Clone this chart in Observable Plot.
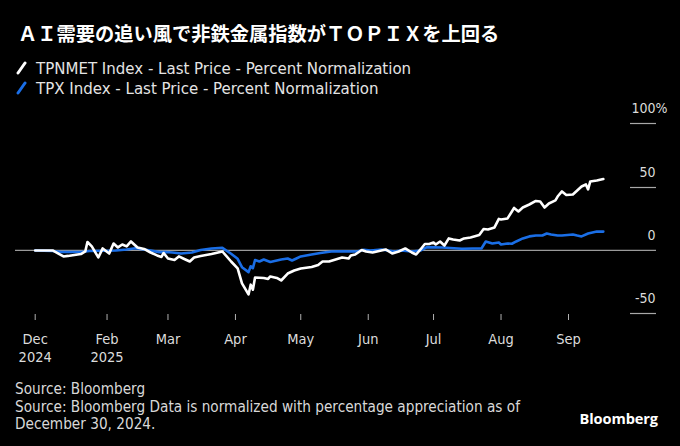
<!DOCTYPE html>
<html><head><meta charset="utf-8">
<script src="https://cdn.jsdelivr.net/npm/d3@7"></script>
<script src="https://cdn.jsdelivr.net/npm/@observablehq/plot@0.6"></script>
<style>
html,body{margin:0;padding:0;background:#000;}
#wrap{position:relative;width:680px;height:446px;background:#000;overflow:hidden;font-family:"DejaVu Sans Condensed","DejaVu Sans",sans-serif;color:#e4e4e4;}
#title{position:absolute;left:18px;top:20px;font-family:"Noto Sans CJK JP",sans-serif;font-weight:700;font-size:19.25px;line-height:26px;color:#fff;white-space:nowrap;}
.leg{position:absolute;left:15px;font-size:16.7px;line-height:20px;white-space:nowrap;display:flex;align-items:center;}
.leg svg{margin-right:8px;}
#chart{position:absolute;left:0;top:100px;}
#foot{position:absolute;left:15px;top:381px;font-size:15.2px;line-height:17.5px;color:#d8d8d8;}
#logo{position:absolute;right:22px;top:406px;font-family:"Open Sans",sans-serif;font-weight:700;font-size:14.6px;line-height:24px;color:#fff;letter-spacing:-0.1px;}
</style></head>
<body>
<div id="wrap">
  <div id="title">ＡＩ需要の追い風で非鉄金属指数がＴＯＰＩＸを上回る</div>
  <div class="leg" style="top:58px"><svg width="13" height="14"><line x1="3" y1="12" x2="10" y2="2" stroke="#ffffff" stroke-width="3" stroke-linecap="round"/></svg><span id="leg1"></span></div>
  <div class="leg" style="top:78px"><svg width="13" height="14"><line x1="3" y1="12" x2="10" y2="2" stroke="#1a6ee6" stroke-width="3" stroke-linecap="round"/></svg><span id="leg2"></span></div>
  <div id="chart"></div>
  <div id="foot">Source: Bloomberg<br>Source: Bloomberg Data is normalized with percentage appreciation as of<br>December 30, 2024.</div>
  <div id="logo">Bloomberg</div>
</div>
<script>
const seriesNames = ["TPNMET Index - Last Price - Percent Normalization", "TPX Index - Last Price - Percent Normalization"];
const seriesColors = ["#ffffff", "#1a6ee6"];

const tpnmet = [
["2024-12-30",0],["2025-01-07",0],["2025-01-12",-4.7],["2025-01-14",-4.3],["2025-01-20",-2.8],
["2025-01-22",-0.8],["2025-01-23",6.7],["2025-01-25",3.2],["2025-01-28",-5.5],["2025-01-30",1.6],
["2025-02-02",-2.4],["2025-02-04",5.5],["2025-02-06",2.4],["2025-02-08",4.7],["2025-02-10",3.2],
["2025-02-12",7.1],["2025-02-15",2.4],["2025-02-18",1.2],["2025-02-21",-1.6],["2025-02-24",-3.9],
["2025-02-26",-5.1],["2025-02-27",-2.0],["2025-03-01",-6.3],["2025-03-04",-7.5],["2025-03-06",-4.7],
["2025-03-08",-6.3],["2025-03-11",-8.7],["2025-03-13",-5.5],["2025-03-16",-4.3],["2025-03-21",-2.8],
["2025-03-24",-1.6],["2025-03-26",-0.8],["2025-03-30",-8.7],["2025-04-02",-14.2],["2025-04-04",-26],
["2025-04-07",-34.7],["2025-04-08",-27],["2025-04-09",-31],["2025-04-10",-21.3],["2025-04-14",-21.7],
["2025-04-16",-22.5],["2025-04-17",-20.5],["2025-04-20",-21.7],["2025-04-22",-23.7],["2025-04-25",-18.2],
["2025-04-28",-15.8],["2025-05-01",-14.2],["2025-05-06",-13],["2025-05-09",-11.4],["2025-05-11",-8.7],
["2025-05-14",-8.7],["2025-05-17",-7.1],["2025-05-20",-5.5],["2025-05-23",-6.3],["2025-05-24",-3.9],
["2025-05-26",-3.2],["2025-05-29",0.4],["2025-05-31",-0.8],["2025-06-03",-1.6],["2025-06-07",0],
["2025-06-09",0.8],["2025-06-12",-2.4],["2025-06-15",-0.8],["2025-06-18",1.6],["2025-06-21",-1.6],
["2025-06-23",-3.2],["2025-06-25",0.8],["2025-06-27",5.1],["2025-06-29",5.1],["2025-07-01",6.3],
["2025-07-02",4.7],["2025-07-04",7.1],["2025-07-06",3.9],["2025-07-08",9.5],["2025-07-10",8.7],
["2025-07-13",7.9],["2025-07-15",9.5],["2025-07-18",10.3],["2025-07-22",12.2],["2025-07-24",17],
["2025-07-26",16.6],["2025-07-29",18.2],["2025-07-31",24.9],["2025-08-01",24.5],["2025-08-04",25.3],
["2025-08-06",30.8],["2025-08-07",33.6],["2025-08-09",30.8],["2025-08-11",33.9],["2025-08-14",36.3],
["2025-08-17",39.1],["2025-08-19",38.7],["2025-08-21",33.9],["2025-08-23",37.1],["2025-08-26",39.5],
["2025-08-27",42.6],["2025-08-29",46.6],["2025-08-31",43.8],["2025-09-03",44.2],["2025-09-05",47.4],
["2025-09-07",50.5],["2025-09-09",52.1],["2025-09-10",48.2],["2025-09-11",54.5],["2025-09-14",55.3],
["2025-09-17",56.4]
];

const tpx = [
["2024-12-30",0],["2025-01-07",-0.4],["2025-01-11",-1.2],["2025-01-20",-1.2],["2025-01-24",-0.4],
["2025-02-05",0],["2025-02-10",0.8],["2025-02-14",1.8],["2025-02-18",0.8],["2025-02-21",0],
["2025-02-25",-1.3],["2025-02-28",-1.2],["2025-03-03",-1.6],["2025-03-07",-2.4],["2025-03-12",-1.6],
["2025-03-16",0.4],["2025-03-21",1.6],["2025-03-26",2.1],["2025-03-30",-2.6],["2025-04-02",-6.6],
["2025-04-04",-13.2],["2025-04-07",-17.1],["2025-04-08",-12.5],["2025-04-09",-14],["2025-04-10",-7.5],
["2025-04-12",-8.7],["2025-04-14",-7.1],["2025-04-17",-9.1],["2025-04-22",-7.1],["2025-04-25",-6.3],
["2025-04-27",-7.9],["2025-04-29",-6.3],["2025-05-01",-4.7],["2025-05-06",-3.2],["2025-05-10",-2.0],
["2025-05-15",-0.8],["2025-05-20",-0.6],["2025-05-27",-0.8],["2025-05-30",0.6],["2025-06-02",0],
["2025-06-07",0.8],["2025-06-13",-0.8],["2025-06-16",0],["2025-06-21",-0.8],["2025-06-25",0],
["2025-06-28",2.6],["2025-07-05",2.4],["2025-07-14",1.3],["2025-07-19",1.6],["2025-07-23",1.6],
["2025-07-25",7.1],["2025-07-28",5.5],["2025-07-31",6.3],["2025-08-01",4.7],["2025-08-04",5.5],
["2025-08-06",5.3],["2025-08-08",7.1],["2025-08-11",9.5],["2025-08-14",11.1],["2025-08-17",11.8],
["2025-08-20",11.8],["2025-08-22",13.4],["2025-08-24",12.6],["2025-08-27",11.8],["2025-08-29",11.8],
["2025-09-03",12.6],["2025-09-05",11.8],["2025-09-07",11.1],["2025-09-10",13.4],["2025-09-12",14.2],
["2025-09-14",15.0],["2025-09-17",14.9]
];

const xTickDates = ["2024-12-30","2025-02-01","2025-03-01","2025-04-01","2025-05-01","2025-06-01","2025-07-01","2025-08-01","2025-09-01"];
const xTickLabels = ["Dec\n2024","Feb\n2025","Mar","Apr","May","Jun","Jul","Aug","Sep"];
const yTicks = [100, 50, 0, -50];
const yTickLabels = ["100", "50", "0", "-50"];
const yUnit = "%";

document.getElementById("leg1").textContent = seriesNames[0];
document.getElementById("leg2").textContent = seriesNames[1];

const toRows = (arr) => arr.map(([d, v]) => ({date: new Date(d), value: v}));
const rowsN = toRows(tpnmet);
const rowsT = toRows(tpx);
const xTicks = xTickDates.map(d => new Date(d));
const labelByTime = new Map(xTicks.map((d, i) => [+d, xTickLabels[i]]));
const yLabelRows = yTicks.map((v, i) => ({v, label: yTickLabels[i]}));

const tickLines = (index, scales, values, dims) => {
  const g = d3.create("svg:g");
  const xr = dims.width - dims.marginRight;
  for (const t of yTicks) {
    if (t === 0) continue;
    const y = Math.round(scales.y(t)) + 0.5;
    g.append("line").attr("x1", xr - 26).attr("x2", xr).attr("y1", y).attr("y2", y)
      .attr("stroke", "#a8a8a8").attr("stroke-width", 1.2);
  }
  return g.node();
};

const chart = Plot.plot({
  width: 680, height: 270,
  marginLeft: 15, marginRight: 24, marginTop: 10, marginBottom: 56,
  style: {background: "transparent", color: "#dcdcdc", fontFamily: "'DejaVu Sans Condensed','DejaVu Sans',sans-serif", fontSize: "14.5px", overflow: "visible"},
  x: {type: "utc", domain: [new Date("2024-12-30"), new Date("2025-09-01")], range: [34.7, 568], axis: null},
  y: {domain: [-50, 100], range: [213.3, 23.3], axis: null},
  marks: [
    Plot.ruleY([0], {stroke: "#9a9a9a", strokeWidth: 1.2}),
    tickLines,
    Plot.text(yLabelRows, {y: "v", text: "label", frameAnchor: "right", textAnchor: "end", dx: -1, dy: -15, fill: "#dcdcdc", fontSize: 14}),
    Plot.text([yUnit], {y: () => yTicks[0], text: d => d, frameAnchor: "right", textAnchor: "start", dx: -1, dy: -15, fill: "#dcdcdc", fontSize: 14}),
    Plot.axisX(xTicks, {tickSize: 6, tickPadding: 10, tickFormat: d => labelByTime.get(+d), stroke: "#b0b0b0", fill: "#dcdcdc", fontSize: 14.5, lineHeight: 1.28}),
    Plot.line(rowsT, {x: "date", y: "value", stroke: seriesColors[1], strokeWidth: 2.6, strokeLinejoin: "round"}),
    Plot.line(rowsN, {x: "date", y: "value", stroke: seriesColors[0], strokeWidth: 2.6, strokeLinejoin: "round"})
  ]
});
document.getElementById("chart").appendChild(chart);
</script>
</body></html>
